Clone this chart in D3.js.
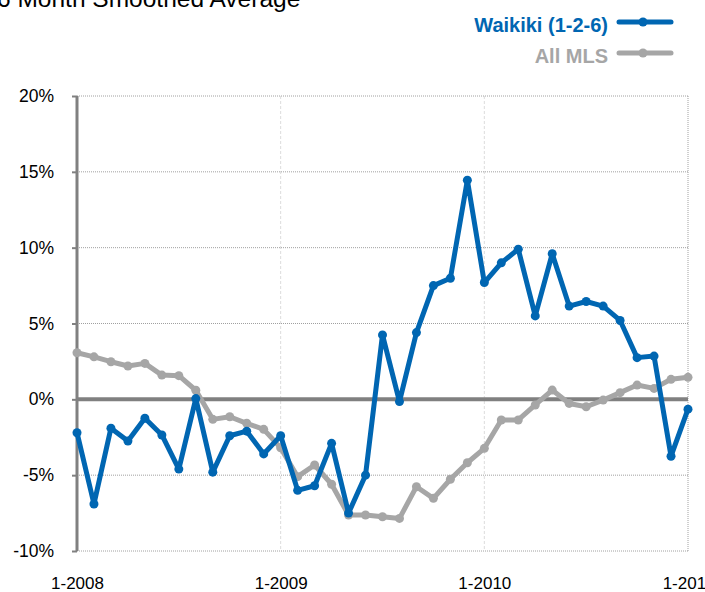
<!DOCTYPE html>
<html>
<head>
<meta charset="utf-8">
<script src="https://cdn.jsdelivr.net/npm/d3@7/dist/d3.min.js"></script>
<style>
  html, body { margin: 0; padding: 0; background: #fff; overflow: hidden; }
  svg { display: block; font-family: "Liberation Sans", Arial, sans-serif; }
</style>
</head>
<body>
<svg id="chart" width="705" height="592"></svg>
<script>
// Monthly points, Jan 2008 through Jan 2011
const months = d3.range(37);
const waikiki = [-2.2, -6.9, -1.9, -2.75, -1.25, -2.35, -4.6, 0.05, -4.8, -2.4, -2.1, -3.6,
                 -2.4, -6.0, -5.7, -2.9, -7.5, -5.0, 4.25, -0.15, 4.4, 7.5, 7.98, 14.45,
                 7.7, 9.0, 9.9, 5.5, 9.6, 6.15, 6.45, 6.15, 5.2, 2.75, 2.85, -3.75, -0.65];
const allMLS  = [3.07, 2.8, 2.48, 2.2, 2.37, 1.6, 1.56, 0.6, -1.32, -1.15, -1.58, -1.98,
                 -3.2, -5.1, -4.33, -5.6, -7.63, -7.63, -7.74, -7.85, -5.76, -6.53, -5.27, -4.18,
                 -3.23, -1.36, -1.36, -0.37, 0.61, -0.27, -0.49, -0.05, 0.44, 0.94, 0.72, 1.32, 1.45];
const yTicks = [-10, -5, 0, 5, 10, 15, 20];
const xTicks = [0, 12, 24, 36];
const xTickLabels = ["1-2008", "1-2009", "1-2010", "1-2011"];
const seriesNames = ["Waikiki (1-2-6)", "All MLS"];
const seriesColors = ["#0066B2", "#A6A6A6"];
const title = "6 Month Smoothed Average";

const svg = d3.select("#chart");
const x = d3.scaleLinear().domain([0, 36]).range([77, 688]);
const y = d3.scaleLinear().domain([-10, 20]).range([551, 96]);

// Title (partly above the top edge)
svg.append("text").attr("x", -3).attr("y", 7)
  .attr("font-size", 24.5).attr("fill", "#000").text(title);

// Vertical year gridlines
svg.append("g").selectAll("line").data(xTicks.slice(1, 3)).join("line")
  .attr("x1", d => x(d)).attr("x2", d => x(d))
  .attr("y1", y(20)).attr("y2", y(-10))
  .attr("stroke", "#dcdcdc").attr("stroke-width", 1).attr("stroke-dasharray", "3,2");

// Right border
svg.append("line").attr("x1", x(36)).attr("x2", x(36))
  .attr("y1", y(20)).attr("y2", y(-10))
  .attr("stroke", "#a0a0a0").attr("stroke-width", 1).attr("stroke-dasharray", "1,1");

// Horizontal gridlines
svg.append("g").selectAll("line").data(yTicks.filter(d => d !== 0)).join("line")
  .attr("x1", x(0)).attr("x2", x(36))
  .attr("y1", d => y(d)).attr("y2", d => y(d))
  .attr("stroke", "#a0a0a0").attr("stroke-width", 1).attr("stroke-dasharray", "1,1");

// Zero line
svg.append("line").attr("x1", x(0)).attr("x2", x(36))
  .attr("y1", y(0)).attr("y2", y(0))
  .attr("stroke", "#808080").attr("stroke-width", 4);

// Y axis
const yAxis = d3.axisLeft(y).tickValues(yTicks).tickSize(5).tickPadding(18)
  .tickFormat(d => d + "%");
const gy = svg.append("g").attr("transform", `translate(${x(0)},0)`).call(yAxis);
gy.select(".domain").attr("stroke", "#808080").attr("stroke-width", 3)
  .attr("d", `M0,${y(20)}V${y(-10)}`);
gy.selectAll(".tick line").attr("stroke", "#808080").attr("stroke-width", 2);
gy.selectAll(".tick text").attr("font-size", 17.5).attr("fill", "#000")
  .attr("font-family", "Liberation Sans, Arial, sans-serif");

// X axis labels
const xAxis = d3.axisBottom(x).tickValues(xTicks).tickSize(0).tickPadding(26)
  .tickFormat((d, i) => xTickLabels[i]);
const gx = svg.append("g").attr("transform", `translate(0,${y(-10)})`).call(xAxis);
gx.select(".domain").remove();
gx.selectAll(".tick text").attr("font-size", 17).attr("fill", "#000")
  .attr("font-family", "Liberation Sans, Arial, sans-serif");

// Series
const line = d3.line().x((d, i) => x(months[i])).y(d => y(d));
[allMLS, waikiki].forEach((vals, k) => {
  const color = seriesColors[1 - k];
  const g = svg.append("g");
  g.append("path").datum(vals).attr("d", line)
    .attr("fill", "none").attr("stroke", color).attr("stroke-width", 5)
    .attr("stroke-linejoin", "round");
  g.selectAll("circle").data(vals).join("circle")
    .attr("cx", (d, i) => x(months[i])).attr("cy", d => y(d))
    .attr("r", 4.5).attr("fill", color);
});

// Legend
const legend = svg.append("g");
seriesNames.forEach((name, i) => {
  const ly = 22 + i * 31;
  legend.append("text").attr("x", 608).attr("y", ly + 10)
    .attr("text-anchor", "end").attr("font-size", 20).attr("font-weight", "bold")
    .attr("fill", seriesColors[i]).text(name);
  legend.append("line").attr("x1", 619).attr("x2", 671)
    .attr("y1", ly).attr("y2", ly)
    .attr("stroke", seriesColors[i]).attr("stroke-width", 5).attr("stroke-linecap", "round");
  legend.append("circle").attr("cx", 643).attr("cy", ly).attr("r", 4.5).attr("fill", seriesColors[i]);
});
</script>
</body>
</html>
